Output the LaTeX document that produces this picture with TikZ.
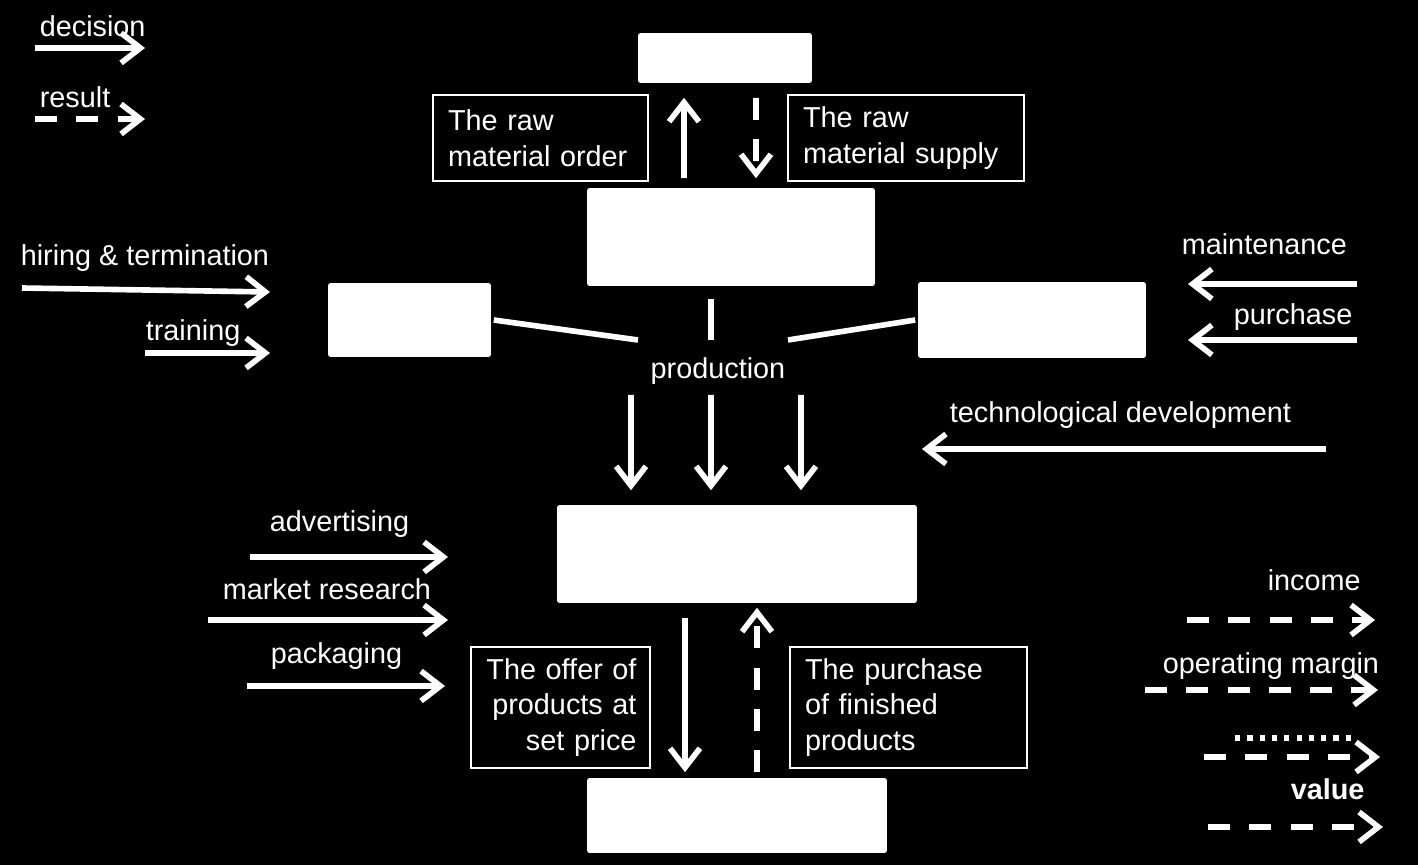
\documentclass[tikz,border=0pt]{standalone}
\usepackage{fontspec}
\setmainfont{Liberation Sans}
\usepackage{tikz}
\usetikzlibrary{arrows.meta}

\begin{document}
\begin{tikzpicture}[x=0.02cm,y=-0.02cm,line width=3.2pt,color=white]
	\tikzstyle{decision}=[draw=white,-{Straight Barb[length=11pt,width=17pt]}]
	\tikzstyle{result}=[decision,dash pattern=on 12.5pt off 11pt]
	\tikzstyle{blank-box}=[draw=none,fill=white,rounded corners=1.5pt,inner sep=0pt]
	\tikzstyle{note}=[draw=white,fill=black,line width=1.1pt,inner xsep=0.3cm,inner ysep=0pt,minimum height=1.72cm,text=white]
	\tikzstyle{lbl}=[anchor=mid west,inner sep=0pt,text=white]
	\fontsize{16.4}{20.2}\selectfont
	% background
	\fill[black] (0,0) rectangle (1418,865);
	\useasboundingbox (0,0) rectangle (1418,865);

	% legend
	\node[lbl] (lg-dec) at (37,29) {decision};
	\node[lbl] (lg-res) at (37,100) {result};
	\coordinate (lg-dec-a) at (35,48);
	\coordinate (lg-dec-b) at (145,48);
	\coordinate (lg-res-a) at (35,119);
	\coordinate (lg-res-b) at (145,119);
	\draw[decision] (lg-dec-a) -- (lg-dec-b);
	\draw[result] (lg-res-a) -- (lg-res-b);

	% blank boxes
	\node[blank-box,minimum width=3.48cm,minimum height=1.0cm] (supplier) at (725,58) {};
	\node[blank-box,minimum width=5.76cm,minimum height=1.96cm] (stock) at (731,237) {};
	\node[blank-box,minimum width=3.26cm,minimum height=1.48cm] (workforce) at (409.5,320) {};
	\node[blank-box,minimum width=4.56cm,minimum height=1.52cm] (machines) at (1032,320) {};
	\node[blank-box,minimum width=7.2cm,minimum height=1.96cm] (products) at (737,554) {};
	\node[blank-box,minimum width=6.0cm,minimum height=1.5cm] (market) at (737,815.5) {};

	% text boxes
	\node[note,minimum width=4.3cm,text width=3.7cm,align=left] (raw-order) at (540.5,138)
		{The raw\\material order};
	\node[note,minimum width=4.72cm,text width=4.12cm,align=left] (raw-supply) at (906,138)
		{The raw\\material supply};
	\node[note,inner xsep=0.27cm,minimum width=3.58cm,minimum height=2.42cm,text width=3.04cm,align=right] (offer) at (560.5,707.5)
		{The offer of\\products at\\set price};
	\node[note,minimum width=4.74cm,minimum height=2.42cm,text width=4.14cm,align=left] (buy) at (908.5,707.5)
		{The purchase\\of finished\\products};

	% production
	\node[inner sep=0pt,text=white] (production) at (718,371) {production};
	\coordinate (prod-l) at (638,340);
	\coordinate (prod-t) at (711,340);
	\coordinate (prod-r) at (788,340);
	\draw (workforce.east) -- (prod-l);
	\draw ([yshift=-0.2cm]stock.south -| prod-t) -- (prod-t);
	\draw (prod-r) -- (machines.west);

	% flows between boxes
	\draw[decision] ([xshift=-0.94cm,yshift=0.14cm]stock.north) -- ([xshift=-0.82cm,yshift=-0.24cm]supplier.south);
	\draw[result] ([xshift=0.62cm,yshift=-0.24cm]supplier.south) -- ([xshift=0.5cm,yshift=0.14cm]stock.north);
	\draw[decision] ([xshift=-1.74cm,yshift=-0.48cm]production.center) -- ([xshift=-2.12cm,yshift=0.24cm]products.north);
	\draw[decision] ([xshift=-0.14cm,yshift=-0.48cm]production.center) -- ([xshift=-0.52cm,yshift=0.24cm]products.north);
	\draw[decision] ([xshift=1.66cm,yshift=-0.48cm]production.center) -- ([xshift=1.28cm,yshift=0.24cm]products.north);
	\draw[decision] ([xshift=-1.04cm,yshift=-0.24cm]products.south) -- ([xshift=-1.04cm,yshift=0.06cm]market.north);
	\draw[result] ([xshift=0.4cm,yshift=0.06cm]market.north) -- ([xshift=0.4cm,yshift=-0.04cm]products.south);

	% inputs on the left
	\node[lbl] (hire) at (18,258) {hiring \& termination};
	\node[lbl] (train) at (143,333) {training};
	\node[lbl] (advert) at (267,524) {advertising};
	\node[lbl] (research) at (220,592) {market research};
	\node[lbl] (pack) at (268,656) {packaging};
	\coordinate (hire-a) at (22,288);
	\coordinate (hire-b) at (270,292);
	\coordinate (train-a) at (145,353);
	\coordinate (train-b) at (270,353);
	\coordinate (advert-a) at (250,557);
	\coordinate (advert-b) at (448,557);
	\coordinate (research-a) at (208,620);
	\coordinate (research-b) at (448,620);
	\coordinate (pack-a) at (247,686);
	\coordinate (pack-b) at (445,686);
	\draw[decision] (hire-a) -- (hire-b);
	\draw[decision] (train-a) -- (train-b);
	\draw[decision] (advert-a) -- (advert-b);
	\draw[decision] (research-a) -- (research-b);
	\draw[decision] (pack-a) -- (pack-b);

	% inputs on the right
	\node[lbl] (maint) at (1179,247) {maintenance};
	\node[lbl] (purch) at (1231,317) {purchase};
	\node[lbl] (techdev) at (947,415) {technological development};
	\coordinate (maint-a) at (1357,284);
	\coordinate (maint-b) at (1188,284);
	\coordinate (purch-a) at (1357,340);
	\coordinate (purch-b) at (1188,340);
	\coordinate (techdev-a) at (1326,449);
	\coordinate (techdev-b) at (922,449);
	\draw[decision] (maint-a) -- (maint-b);
	\draw[decision] (purch-a) -- (purch-b);
	\draw[decision] (techdev-a) -- (techdev-b);

	% value legend
	\node[lbl] (income) at (1265,583) {income};
	\node[lbl] (margin) at (1160,666) {operating margin};
	\node[lbl] (value) at (1288,792) {\bfseries value};
	\coordinate (income-a) at (1187,620);
	\coordinate (income-b) at (1375,620);
	\coordinate (margin-a) at (1145,690);
	\coordinate (margin-b) at (1378,690);
	\coordinate (dots-a) at (1235,738);
	\coordinate (dots-b) at (1354,738);
	\coordinate (mix-a) at (1204,757);
	\coordinate (mix-b) at (1380,757);
	\coordinate (value-a) at (1208,827);
	\coordinate (value-b) at (1383,827);
	\draw[result] (income-a) -- (income-b);
	\draw[result] (margin-a) -- (margin-b);
	\draw[dash pattern=on 3pt off 4pt] (dots-a) -- (dots-b);
	\draw[result] (mix-a) -- (mix-b);
	\draw[result] (value-a) -- (value-b);
\end{tikzpicture}
\end{document}
